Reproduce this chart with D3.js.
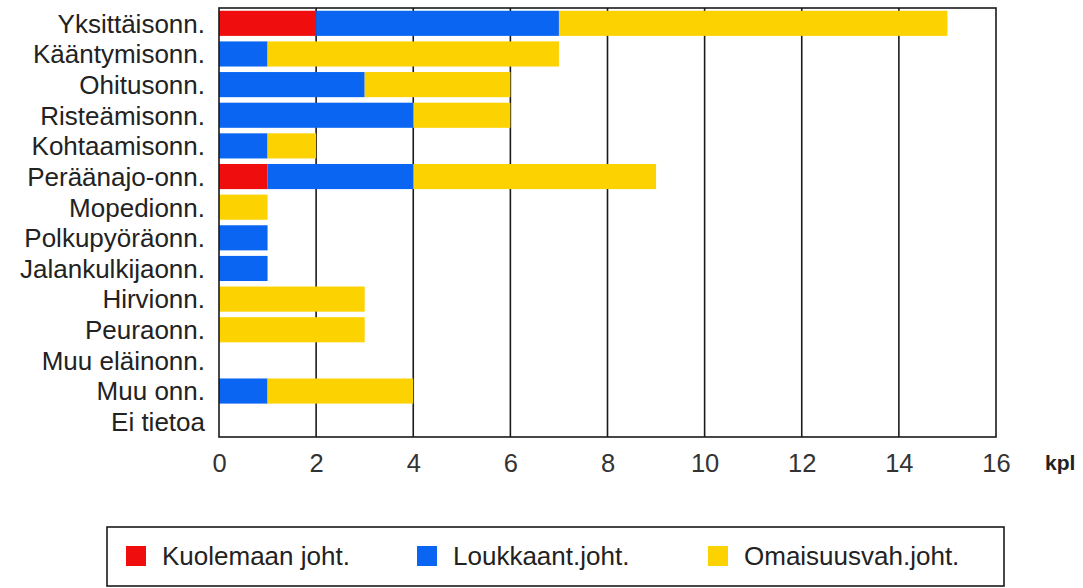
<!DOCTYPE html>
<html>
<head>
<meta charset="utf-8">
<script src="https://cdn.jsdelivr.net/npm/d3@7"></script>
<style>
  html, body { margin: 0; padding: 0; background: #fff; }
  svg { display: block; font-family: "Liberation Sans", Arial, sans-serif; }
</style>
</head>
<body>
<svg id="chart" width="1083" height="588"></svg>
<script>
// Accident types (top to bottom)
const categories = [
  "Yksittäisonn.", "Kääntymisonn.", "Ohitusonn.", "Risteämisonn.",
  "Kohtaamisonn.", "Peräänajo-onn.", "Mopedionn.", "Polkupyöräonn.",
  "Jalankulkijaonn.", "Hirvionn.", "Peuraonn.", "Muu eläinonn.",
  "Muu onn.", "Ei tietoa"
];
// Counts per severity
const fatal    = [2, 0, 0, 0, 0, 1, 0, 0, 0, 0, 0, 0, 0, 0];
const injury   = [5, 1, 3, 4, 1, 3, 0, 1, 1, 0, 0, 0, 1, 0];
const property = [8, 6, 3, 2, 1, 5, 1, 0, 0, 3, 3, 0, 3, 0];

const seriesNames = ["Kuolemaan joht.", "Loukkaant.joht.", "Omaisuusvah.joht."];
const seriesColors = ["#f00d0d", "#0a66f2", "#fcd200"];
const xTicks = [0, 2, 4, 6, 8, 10, 12, 14, 16];
const unitLabel = "kpl";

const rows = categories.map((c, i) => ({
  cat: c, k: fatal[i], l: injury[i], o: property[i]
}));
const keys = ["k", "l", "o"];
const stacked = d3.stack().keys(keys)(rows);

const svg = d3.select("#chart");
const plot = { left: 219, right: 996, top: 8, bottom: 437 };

const x = d3.scaleLinear().domain([0, 16]).range([plot.left, plot.right]);
const y = d3.scaleBand().domain(categories)
  .range([plot.top, plot.bottom]).paddingInner(0.18).paddingOuter(0.09);

// vertical grid lines
svg.append("g").selectAll("line")
  .data(xTicks.slice(1, -1))
  .join("line")
  .attr("x1", d => x(d)).attr("x2", d => x(d))
  .attr("y1", plot.top).attr("y2", plot.bottom)
  .attr("stroke", "#1a1a1a").attr("stroke-width", 1.6);

// stacked bars
svg.append("g").selectAll("g")
  .data(stacked)
  .join("g")
  .attr("fill", (d, i) => seriesColors[i])
  .selectAll("rect")
  .data(d => d.filter(s => s[1] > s[0]))
  .join("rect")
  .attr("x", d => x(d[0]))
  .attr("width", d => x(d[1]) - x(d[0]))
  .attr("y", d => y(d.data.cat))
  .attr("height", y.bandwidth());

// frame around plot area
svg.append("rect")
  .attr("x", plot.left).attr("y", plot.top)
  .attr("width", plot.right - plot.left).attr("height", plot.bottom - plot.top)
  .attr("fill", "none").attr("stroke", "#1a1a1a").attr("stroke-width", 1.6);

// category labels
svg.append("g").selectAll("text")
  .data(categories)
  .join("text")
  .attr("x", 205)
  .attr("y", d => y(d) + y.bandwidth() / 2)
  .attr("dy", "0.36em")
  .attr("text-anchor", "end")
  .attr("font-size", 26)
  .attr("fill", "#222")
  .text(d => d);

// x axis tick labels
const xAxis = d3.axisBottom(x).tickValues(xTicks).tickSize(0).tickPadding(0);
const gx = svg.append("g").attr("transform", `translate(0,${plot.bottom})`).call(xAxis);
gx.select(".domain").remove();
gx.selectAll("text")
  .attr("y", 26).attr("dy", "0.36em")
  .attr("font-family", "Liberation Sans, Arial, sans-serif")
  .attr("font-size", 25.5).attr("fill", "#333");

svg.append("text")
  .attr("x", 1045).attr("y", 462).attr("dy", "0.36em")
  .attr("font-size", 21).attr("font-weight", "bold").attr("fill", "#222")
  .text(unitLabel);

// legend
const legend = svg.append("g");
legend.append("rect")
  .attr("x", 107).attr("y", 527).attr("width", 897).attr("height", 59)
  .attr("fill", "#fff").attr("stroke", "#1a1a1a").attr("stroke-width", 1.6);
const legendX = [126, 417, 708];
const item = legend.selectAll("g.item")
  .data(seriesNames)
  .join("g").attr("class", "item")
  .attr("transform", (d, i) => `translate(${legendX[i]},556)`);
item.append("rect")
  .attr("x", 0).attr("y", -10).attr("width", 20).attr("height", 20)
  .attr("fill", (d, i) => seriesColors[i]);
item.append("text")
  .attr("x", 36).attr("dy", "0.36em")
  .attr("font-size", 26).attr("fill", "#222")
  .text(d => d);
</script>
</body>
</html>
